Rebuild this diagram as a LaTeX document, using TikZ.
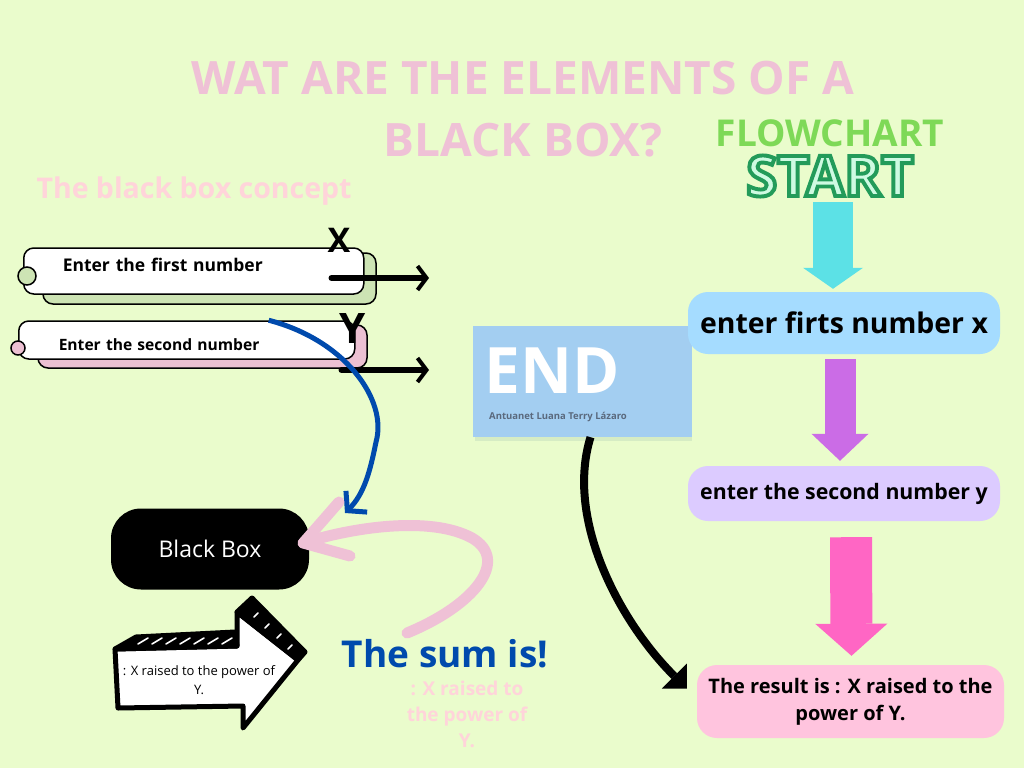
\documentclass[tikz,border=0pt]{standalone}
\usepackage{fontspec}
\setmainfont{Open Sans}
\usetikzlibrary{arrows.meta,positioning}
\definecolor{bgcol}{RGB}{234,252,204}
\definecolor{titlepink}{RGB}{239,193,214}
\definecolor{softpink}{RGB}{255,212,218}
\definecolor{boxgreen}{RGB}{205,228,180}
\definecolor{boxpink}{RGB}{236,192,210}
\definecolor{sumblue}{RGB}{0,74,173}
\definecolor{flowgreen}{RGB}{126,217,87}
\definecolor{startmint}{RGB}{206,250,226}
\definecolor{startdark}{RGB}{35,155,90}
\definecolor{arrowcyan}{RGB}{92,225,230}
\definecolor{arrowpurple}{RGB}{203,108,230}
\definecolor{arrowpink}{RGB}{255,102,196}
\definecolor{stepblue}{RGB}{165,220,255}
\definecolor{steplilac}{RGB}{220,203,255}
\definecolor{steprose}{RGB}{255,196,222}
\definecolor{endblue}{RGB}{163,206,241}
\definecolor{endshade}{RGB}{214,236,196}
\definecolor{namegrey}{RGB}{90,105,125}
\begin{document}
\begin{tikzpicture}
		[x=1pt, y=-1pt,
		title/.style={font=\bfseries\fontsize{46}{62}\selectfont, text=titlepink, align=center},
		inbox/.style={draw, line width=1.5pt, rounded corners=10pt, fill=white, anchor=west, align=left},
		backbox/.style={draw, line width=1.5pt, rounded corners=10pt},
		knob/.style={circle, draw, line width=1.5pt, inner sep=0pt},
		varlabel/.style={font=\bfseries\fontsize{#1}{#1}\selectfont, inner sep=0pt},
		brush/.style={line width=6pt, line cap=round, -{Straight Barb[length=9pt, width=24pt, line width=4pt]}},
		bluecurve/.style={draw=sumblue, line width=5pt, -{Straight Barb[length=13pt, width=30pt, line width=5pt]}},
		pinkbrush/.style={draw=titlepink, line width=11pt, line cap=round, line join=round},
		blackbox/.style={fill=black, text=white, rounded corners=30pt, minimum width=198pt, minimum height=81pt, font=\fontsize{23}{23}\selectfont},
		sketch/.style={draw=black, line width=5pt, line join=round},
		hatch/.style={white, line width=1.6pt, line cap=round},
		endbox/.style={fill=endblue, minimum width=219pt, minimum height=111pt},
		endcurve/.style={line width=8pt, -{Triangle[angle=90:25pt, line width=0pt]}},
		stepnode/.style={rounded corners=20pt, minimum width=312pt, align=center, inner sep=0pt},
		fatarrow/.style n args={4}{draw=#1, line width=#2, -{Triangle[width=#3, length=#4, line width=0pt, fill=#1]}},
		startword/.style={font=\bfseries\fontsize{56}{56}\selectfont, inner sep=0pt}]
		% background and page size
		\fill[bgcol] (0,0) rectangle (1024,768);
		\useasboundingbox (0,0) rectangle (1024,768);
		% headings
		\node[title] (title) at (523,109) {WAT ARE THE ELEMENTS OF A\\BLACK BOX?};
		\node[font=\bfseries\fontsize{28.5}{28.5}\selectfont, text=softpink, anchor=west] (concept) at (33,191) {The black box concept};
		\node[font=\bfseries\fontsize{37}{37}\selectfont, text=flowgreen] (flow) at (830,133) {FLOWCHART};
		\node[startword, text=startmint] (start) at (830,176) {\addfontfeature{FakeBold=7}\special{pdf:literal 0.137 0.608 0.353 RG}START};
		% inputs
		\node[backbox, fill=boxgreen, minimum width=333pt, minimum height=51pt] (firstback) at (209.5,278.5) {};
		\node[inbox, minimum height=46pt, text width=262pt, inner xsep=39pt, text height=12pt, text depth=12pt, font=\bfseries\fontsize{17.5}{17.5}\selectfont] (first) at (23,271) {Enter the first number};
		\node[knob, fill=boxgreen, minimum size=18pt] (knobA) at (27,276) {};
		\node[backbox, fill=boxpink, minimum width=329pt, minimum height=43pt] (secondback) at (202.5,346.5) {};
		\node[inbox, minimum height=38pt, text width=256pt, inner xsep=40pt, text height=23pt, text depth=3pt, font=\bfseries\fontsize{15.6}{15.6}\selectfont] (second) at (18,340) {Enter the second number};
		\node[knob, fill=boxpink, minimum size=14pt] (knobB) at (18,348) {};
		\node[varlabel=34] (xlabel) at (339,240) {X};
		\node[varlabel=42] (ylabel) at (353,329) {Y};
		\coordinate (xout) at (429,278);
		\coordinate (yout) at (429,370);
		\draw[brush] ([shift={(-33,7)}]first.east) -- (xout);
		\draw[brush] ([shift={(-14,30)}]second.east) -- (yout);
		% black box and its arrows
		\node[blackbox] (bbox) at (210,549) {Black Box};
		\node[font=\bfseries\fontsize{37}{37}\selectfont, text=sumblue] (sum) at (445,654) {The sum is!};
		\node[font=\bfseries\fontsize{19}{26}\selectfont, text=softpink, align=center] (sumtext) at (467,714) {: X raised to\\the power of\\Y.};
		\coordinate (tail) at (407,633);
		\coordinate (bbin) at (345,513);
		\draw[bluecurve] ([shift={(82,0)}]second.north) .. controls (345,340) and (388,400) .. (376,442) .. controls (370,472) and (364,494) .. (bbin);
		\draw[pinkbrush] (tail) .. controls (475,605) and (510,560) .. (472,538) .. controls (430,515) and (350,528) .. ([shift={(-6,-6)}]bbox.east);
		\draw[pinkbrush] (339,502) -- ([shift={(-6,-6)}]bbox.east) -- (350,556);
		% sketched arrow
		\filldraw[sketch, fill=white] (115,649) -- (237,646) -- (237,612) -- (298,660) -- (243,728) -- (243,706) -- (118,708) -- cycle;
		\filldraw[sketch, fill=black] (115,649) -- (136,637) -- (235,632) -- (237,646) -- cycle;
		\filldraw[sketch, fill=black] (237,612) -- (252,598) -- (305,652) -- (298,660) -- cycle;
		\foreach \i in {0,...,6}
			\draw[hatch] (138+14*\i,644) -- (148+14*\i,638);
		\foreach \x/\y in {256/615, 267/626, 279/636, 290/647}
			\draw[hatch] (\x-2,\y+2) -- (\x+2,\y-2);
		\node[font=\fontsize{13}{19}\selectfont, align=center] (powtext) at (199,680) {: X raised to the power of\\Y.};
		% end card
		\fill[endshade] (475,432) rectangle (692,441);
		\node[endbox] (endbox) at (582.5,381.5) {};
		\node[font=\bfseries\fontsize{64}{64}\selectfont, text=white, anchor=west, inner sep=0pt] (endword) at (484,371) {END};
		\node[font=\bfseries\fontsize{9.5}{9.5}\selectfont, text=namegrey, anchor=west, inner sep=0pt] (author) at (489,417) {Antuanet Luana Terry Lázaro};
		% flowchart
		\node[stepnode, fill=stepblue, minimum height=62pt, font=\bfseries\fontsize{28.4}{28.4}\selectfont] (stepx) at (844,323) {enter firts number x};
		\node[stepnode, fill=steplilac, minimum height=55pt, font=\bfseries\fontsize{21.3}{21.3}\selectfont] (stepy) at (844,493.5) {enter the second number y};
		\node[stepnode, fill=steprose, minimum width=307pt, minimum height=73pt, font=\bfseries\fontsize{20}{27}\selectfont] (result) at (850.5,701.5) {The result is : X raised to the\\power of Y.};
		\draw[fatarrow={arrowcyan}{40pt}{60pt}{21pt}] ([shift={(3,26)}]start.center) -- ([shift={(-11,-3)}]stepx.north);
		\draw[fatarrow={arrowpurple}{31pt}{57pt}{27pt}] ([shift={(-4,5)}]stepx.south) -- ([shift={(-4,-5)}]stepy.north);
		\draw[fatarrow={arrowpink}{42pt}{72pt}{32pt}] ([shift={(7,16)}]stepy.south) -- ([shift={(1,-9)}]result.north);
		\draw[endcurve] ([shift={(8,0)}]endbox.south) .. controls (565,520) and (620,622) .. ([shift={(-10,-13)}]result.west);
	\end{tikzpicture}
\end{document}
